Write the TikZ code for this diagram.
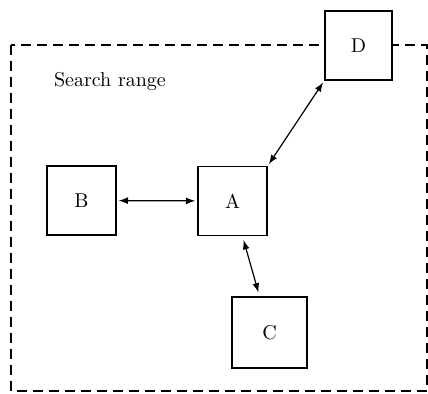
\documentclass[tikz,border=0pt]{standalone}
\usetikzlibrary{positioning}
\begin{document}
\begin{tikzpicture}[x=0.5pt,y=-0.5pt,
  cell/.style={draw,thick,fill=white,minimum width=34.5pt,minimum height=34.5pt,inner sep=0pt},
  link/.style={<->,>=latex,semithick}]
\useasboundingbox (0,0) rectangle (428,394);
% Search range
\draw[thick,dash pattern=on 5pt off 3pt] (11,45) rectangle (427,391);
\node[right] (range) at (47,82) {Search range};

% Boxes
\node[cell] (A) at (232.5,201) {A};
\node[cell] (B) at (81.5,200.5) {B};
\node[cell,minimum width=37.5pt,minimum height=35.5pt] (C) at (269.5,332.5) {C};
\node[cell,minimum width=33.5pt] (D) at (358.5,45.5) {D};

% Connections
\draw[link,shorten <=1pt,shorten >=1pt] (B) -- (A);
\draw[link,shorten <=1pt,shorten >=1pt] (A.north east) -- (D.south west);
\draw[link,shorten <=2pt,shorten >=2pt] ([xshift=5pt]A.south) -- ([xshift=-5pt]C.north);
\end{tikzpicture}
\end{document}
